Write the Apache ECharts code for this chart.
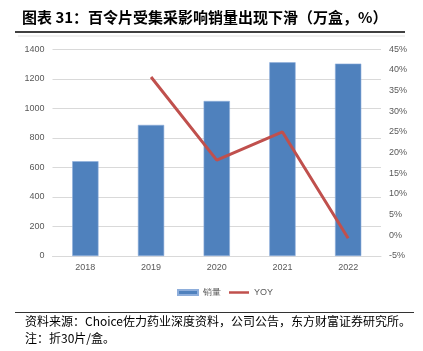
<!DOCTYPE html>
<html>
<head>
<meta charset="utf-8">
<script src="https://cdn.jsdelivr.net/npm/echarts@6/dist/echarts.min.js"></script>
<style>
html,body{margin:0;padding:0;background:#fff;}
#main{width:423px;height:351px;}
</style>
</head>
<body>
<div id="main"></div>
<script>
// 数据
var years = ['2018', '2019', '2020', '2021', '2022'];
var sales = [642, 888, 1050, 1312, 1303];
var yoy = [null, 38.3, 18.2, 25.0, -0.7];

var chart = echarts.init(document.getElementById('main'));
var option = {
    backgroundColor: '#fff',
    animation: false,
    title: {
        text: '图表 31：百令片受集采影响销量出现下滑（万盒，%）',
        left: 17,
        top: 5,
        textStyle: {
            fontFamily: 'Noto Sans CJK SC',
            fontSize: 15,
            fontWeight: 'bold',
            color: '#000'
        }
    },
    grid: {
        left: 52.5,
        right: 42,
        top: 49.3,
        bottom: 95
    },
    legend: {
        left: 172,
        top: 283,
        itemWidth: 20,
        itemHeight: 5,
        itemGap: 8,
        textStyle: {fontSize: 9, color: '#595959'},
        data: [
            {name: '销量', icon: 'rect'},
            {name: 'YOY', icon: 'path://M0,0 L24,0 L24,3 L0,3 Z'}
        ]
    },
    xAxis: {
        type: 'category',
        data: years,
        axisLine: {lineStyle: {color: '#d9d9d9'}},
        axisTick: {show: false},
        axisLabel: {color: '#595959', fontSize: 9, margin: 7}
    },
    yAxis: [
        {
            type: 'value',
            min: 0,
            max: 1400,
            interval: 200,
            axisLine: {show: false},
            axisTick: {show: false},
            axisLabel: {color: '#595959', fontSize: 9, margin: 8, formatter: function (v) { return String(v); }},
            splitLine: {lineStyle: {color: '#d9d9d9'}}
        },
        {
            type: 'value',
            min: -5,
            max: 45,
            interval: 5,
            axisLine: {show: false},
            axisTick: {show: false},
            axisLabel: {color: '#595959', fontSize: 9, margin: 8, formatter: '{value}%'},
            splitLine: {show: false}
        }
    ],
    series: [
        {
            name: '销量',
            type: 'bar',
            data: sales,
            barWidth: '40%',
            itemStyle: {color: '#4F81BD', borderColor: '#8eaedb', borderWidth: 0.6}
        },
        {
            name: 'YOY',
            type: 'line',
            yAxisIndex: 1,
            data: yoy,
            showSymbol: false,
            symbol: 'none',
            lineStyle: {color: '#C0504D', width: 3},
            itemStyle: {color: '#C0504D'}
        }
    ],
    graphic: [
        {type: 'line', shape: {x1: 15, y1: 32, x2: 405, y2: 32}, style: {stroke: '#404040', lineWidth: 2}},
        {type: 'line', shape: {x1: 18, y1: 36, x2: 405, y2: 36}, style: {stroke: '#e0e0e0', lineWidth: 1}},
        {type: 'line', shape: {x1: 15, y1: 312.5, x2: 414, y2: 312.5}, style: {stroke: '#333', lineWidth: 1}},
        {type: 'text', left: 25, top: 315, style: {text: '资料来源：Choice佐力药业深度资料，公司公告，东方财富证券研究所。', fontSize: 12, fontFamily: 'Noto Sans CJK SC', fill: '#000'}},
        {type: 'text', left: 25, top: 332, style: {text: '注：折30片/盒。', fontSize: 12, fontFamily: 'Noto Sans CJK SC', fill: '#000'}}
    ]
};
chart.setOption(option);
</script>
</body>
</html>
